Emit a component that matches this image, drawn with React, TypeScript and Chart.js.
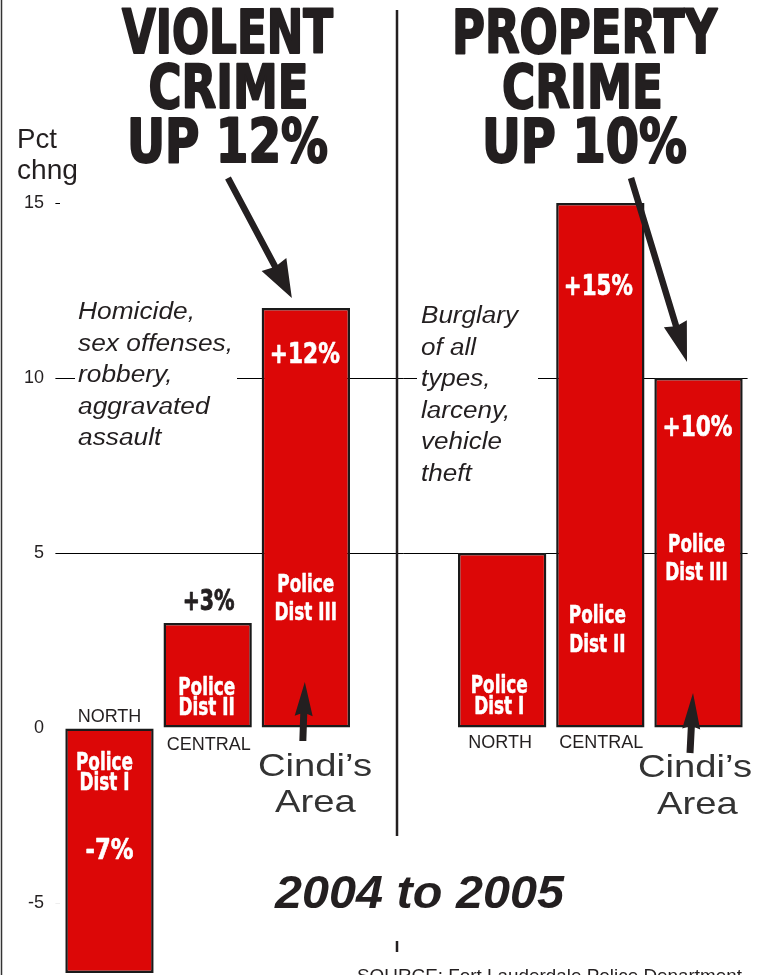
import React, { useEffect, useRef } from "react";
import { Chart, registerables } from "chart.js";

Chart.register(...registerables);

// ---------- data ----------
const categories = ["North (violent)", "Central (violent)", "Dist III (violent)", "", "North (property)", "Central (property)", "Dist III (property)"];
const pctChange: (number | null)[] = [-7, 3, 12, null, 5, 15, 10];
const valueLabels = ["-7%", "+3%", "+12%", "", "", "+15%", "+10%"];
const districtLine1 = ["Police", "Police", "Police", "", "Police", "Police", "Police"];
const districtLine2 = ["Dist I", "Dist II", "Dist III", "", "Dist I", "Dist II", "Dist III"];
const areaLabels = ["NORTH", "CENTRAL", "", "", "NORTH", "CENTRAL", ""];
const yTickValues = [-5, 0, 5, 10, 15];
const violentHeadline = ["VIOLENT", "CRIME", "UP 12%"];
const propertyHeadline = ["PROPERTY", "CRIME", "UP 10%"];
const violentNote = ["Homicide,", "sex offenses,", "robbery,", "aggravated", "assault"];
const propertyNote = ["Burglary", "of all", "types,", "larceny,", "vehicle", "theft"];
const yAxisTitle = ["Pct", "chng"];
const cindiLabel = ["Cindi\u2019s", "Area"];
const periodLabel = "2004 to 2005";
const sourceLabel = "SOURCE: Fort Lauderdale Police Department";

const Y_MIN = -7.057;
const Y_MAX = 20.8;

// ---------- styles / layout ----------
const RED = "#dc0707";
const INK = "#231f20";
const SANS = "'Liberation Sans', Arial, Helvetica, sans-serif";
const NARROW = "'Liberation Sans Narrow', 'DejaVu Sans Condensed', 'Liberation Sans', sans-serif";

// value label: [centerX offset, baseline y, width, color]
const valueLabelLayout: Record<number, [number, number, number, string]> = {
  0: [0, 859, 48, "#fff"],
  1: [1, 610, 52, INK],
  2: [-1, 363, 70, "#fff"],
  5: [-2, 295, 69, "#fff"],
  6: [-1, 436, 70, "#fff"],
};
// district label: [centerX offset, baseline line1, baseline line2]
const districtLayout: Record<number, [number, number, number]> = {
  0: [-5, 770, 790],
  1: [-1, 695, 715],
  2: [0, 592, 620],
  4: [-3, 693, 714],
  5: [-3, 623, 652],
  6: [-2, 552, 580],
};
// area label: [centerX offset, baseline]
const areaLayout: Record<number, [number, number]> = {
  0: [0, 722],
  1: [1, 750],
  4: [-2, 748],
  5: [1, 748],
};

function drawScaled(
  ctx: CanvasRenderingContext2D,
  text: string,
  x: number,
  y: number,
  font: string,
  sx: number,
  color: string,
  align: CanvasTextAlign = "center",
  stroke = 0
) {
  ctx.save();
  ctx.font = font;
  ctx.translate(x, y);
  ctx.scale(sx, 1);
  ctx.textAlign = align;
  ctx.textBaseline = "alphabetic";
  ctx.fillStyle = color;
  ctx.fillText(text, 0, 0);
  if (stroke > 0) {
    ctx.strokeStyle = color;
    ctx.lineWidth = stroke;
    ctx.lineJoin = "round";
    ctx.strokeText(text, 0, 0);
  }
  ctx.restore();
}

function scaleFor(ctx: CanvasRenderingContext2D, text: string, font: string, width: number) {
  ctx.save();
  ctx.font = font;
  const w = ctx.measureText(text).width;
  ctx.restore();
  return w > 0 ? width / w : 1;
}

function drawFit(
  ctx: CanvasRenderingContext2D,
  text: string,
  x: number,
  y: number,
  font: string,
  width: number,
  color: string,
  align: CanvasTextAlign = "center",
  stroke = 0
) {
  drawScaled(ctx, text, x, y, font, scaleFor(ctx, text, font, width), color, align, stroke);
}

function arrow(
  ctx: CanvasRenderingContext2D,
  x1: number,
  y1: number,
  x2: number,
  y2: number,
  shaftW: number,
  headLen: number,
  headW: number
) {
  const ang = Math.atan2(y2 - y1, x2 - x1);
  const len = Math.hypot(x2 - x1, y2 - y1);
  ctx.save();
  ctx.translate(x1, y1);
  ctx.rotate(ang);
  ctx.fillStyle = INK;
  ctx.beginPath();
  ctx.moveTo(0, -shaftW / 2);
  ctx.lineTo(len - headLen + 2, -shaftW / 2);
  ctx.lineTo(len - headLen, -headW / 2);
  ctx.lineTo(len, 0);
  ctx.lineTo(len - headLen, headW / 2);
  ctx.lineTo(len - headLen + 2, shaftW / 2);
  ctx.lineTo(0, shaftW / 2);
  ctx.closePath();
  ctx.fill();
  ctx.restore();
}

const overlayPlugin = {
  id: "overlay",
  afterDatasetsDraw(chart: any) {
    const ctx: CanvasRenderingContext2D = chart.ctx;
    const xs = chart.scales.x;
    const ys = chart.scales.y;
    const xp = (i: number) => xs.getPixelForValue(i);
    const yp = (v: number) => ys.getPixelForValue(v);

    // left frame line
    ctx.save();
    ctx.strokeStyle = "#333";
    ctx.lineWidth = 1.5;
    ctx.beginPath();
    ctx.moveTo(1.5, 0);
    ctx.lineTo(1.5, chart.height);
    ctx.stroke();
    ctx.restore();

    // divider between the two panels
    const divX = (xp(2) + xp(4)) / 2 - 7;
    ctx.save();
    ctx.strokeStyle = INK;
    ctx.lineWidth = 2.5;
    ctx.beginPath();
    ctx.moveTo(divX, 10);
    ctx.lineTo(divX, 836);
    ctx.moveTo(divX, 941);
    ctx.lineTo(divX, 952);
    ctx.stroke();
    ctx.restore();

    // Notes with white boxes
    ctx.save();
    ctx.fillStyle = "#fff";
    ctx.fillRect(75, 296, 162, 158);
    ctx.fillRect(417, 300, 121, 190);
    ctx.restore();
    const noteFont = `italic 23px ${SANS}`;
    const sL = scaleFor(ctx, violentNote[1], noteFont, 155);
    violentNote.forEach((t, k) => drawScaled(ctx, t, 78, 319 + k * 31.5, noteFont, sL, INK, "left"));
    const sR = scaleFor(ctx, propertyNote[0], noteFont, 97);
    propertyNote.forEach((t, k) => drawScaled(ctx, t, 421, 323 + k * 31.5, noteFont, sR, INK, "left"));

    // y-axis title
    const titleFont = `28px ${SANS}`;
    drawFit(ctx, yAxisTitle[0], 17, 148, titleFont, 40, INK, "left");
    drawFit(ctx, yAxisTitle[1], 17, 179, titleFont, 61, INK, "left");

    // headlines
    const hFont = `bold 61px ${NARROW}`;
    const vW = [211, 160, 201];
    const vC = [227.5, 228.5, 227.5];
    const pW = [265, 161, 205];
    const pC = [584.5, 582.5, 584.5];
    const hBase = [53, 108, 162];
    violentHeadline.forEach((t, k) => drawFit(ctx, t, vC[k], hBase[k], hFont, vW[k], INK, "center", 2));
    propertyHeadline.forEach((t, k) => drawFit(ctx, t, pC[k], hBase[k], hFont, pW[k], INK, "center", 2));

    // value labels
    const vFont = `bold 28px ${NARROW}`;
    Object.keys(valueLabelLayout).forEach((key) => {
      const i = Number(key);
      const [dx, by, w, col] = valueLabelLayout[i];
      drawFit(ctx, valueLabels[i], xp(i) + dx, by, vFont, w, col, "center", col === "#fff" ? 0.6 : 0.8);
    });

    // district labels
    const dFont = `bold 25px ${NARROW}`;
    const dS = scaleFor(ctx, "Police", dFont, 57);
    Object.keys(districtLayout).forEach((key) => {
      const i = Number(key);
      const [dx, b1, b2] = districtLayout[i];
      drawScaled(ctx, districtLine1[i], xp(i) + dx, b1, dFont, dS, "#fff", "center", 0.5);
      drawScaled(ctx, districtLine2[i], xp(i) + dx, b2, dFont, dS, "#fff", "center", 0.5);
    });

    // area labels
    const aFont = `18px ${SANS}`;
    Object.keys(areaLayout).forEach((key) => {
      const i = Number(key);
      const [dx, by] = areaLayout[i];
      ctx.save();
      ctx.font = aFont;
      ctx.fillStyle = INK;
      ctx.textAlign = "center";
      ctx.fillText(areaLabels[i], xp(i) + dx, by);
      ctx.restore();
    });

    // Cindi's area labels
    const cFont = `32px ${SANS}`;
    const cS = scaleFor(ctx, cindiLabel[0], cFont, 114);
    drawScaled(ctx, cindiLabel[0], 258, 776, cFont, cS, "#333", "left");
    drawScaled(ctx, cindiLabel[1], 275, 812, cFont, cS, "#333", "left");
    drawScaled(ctx, cindiLabel[0], 638, 777, cFont, cS, "#333", "left");
    drawScaled(ctx, cindiLabel[1], 657, 814, cFont, cS, "#333", "left");

    // arrows
    arrow(ctx, 228, 178, xp(2) - 14, yp(12) - 10, 6.5, 38, 28);
    arrow(ctx, 631, 178, xp(6) - 11.5, yp(10) - 16, 6.5, 40, 24);
    arrow(ctx, xp(2) - 3, 741, xp(2) - 1, yp(0) - 46, 7, 34, 18);
    arrow(ctx, xp(6) - 8.5, 753, xp(6) - 5.5, yp(0) - 35, 7, 36, 18);

    // period label
    drawFit(ctx, periodLabel, 419.5, 908, `italic bold 46px ${SANS}`, 289, INK, "center");

    // source
    drawFit(ctx, sourceLabel, 357, 982, `19px ${SANS}`, 385, INK, "left");
  },
};

export default function App() {
  const canvasRef = useRef<HTMLCanvasElement | null>(null);

  useEffect(() => {
    document.body.style.margin = "0";
    const canvas = canvasRef.current;
    if (!canvas) return;
    const chart = new Chart(canvas, {
      type: "bar",
      data: {
        labels: categories,
        datasets: [
          {
            label: "Pct change 2004 to 2005",
            data: pctChange,
            backgroundColor: RED,
            borderColor: "#1a1a1a",
            borderWidth: 2.5,
            borderSkipped: false,
            categoryPercentage: 1,
            barPercentage: 0.9,
          },
        ],
      },
      options: {
        responsive: false,
        animation: false,
        devicePixelRatio: 1,
        layout: { padding: { left: 0, right: 17.4, top: 0, bottom: 0 } },
        plugins: {
          legend: { display: false },
          tooltip: { enabled: false },
          title: { display: false },
        },
        scales: {
          x: {
            type: "category",
            display: false,
            offset: true,
          },
          y: {
            type: "linear",
            min: Y_MIN,
            max: Y_MAX,
            border: { display: false },
            afterBuildTicks: (scale: any) => {
              scale.ticks = yTickValues.map((v) => ({ value: v }));
            },
            afterFit: (scale: any) => {
              scale.width = 60.4;
              scale.paddingTop = 0;
              scale.paddingBottom = 0;
            },
            grid: {
              drawTicks: true,
              tickLength: 5,
              lineWidth: 1,
              color: (c: any) => {
                const v = c.tick && c.tick.value;
                if (v === 5 || v === 10) return "#000";
                return "rgba(0,0,0,0)";
              },
              tickColor: (c: any) => {
                const v = c.tick && c.tick.value;
                if (v === 0) return "rgba(0,0,0,0)";
                if (v === -5) return "#eeeeee";
                return "#000";
              },
            },
            ticks: {
              padding: 11.4,
              color: INK,
              font: { family: "'Liberation Sans', Arial, sans-serif", size: 18 },
              callback: (v: any) => String(v),
            },
          },
        },
      },
      plugins: [overlayPlugin],
    });
    return () => chart.destroy();
  }, []);

  return (
    <div style={{ position: "absolute", left: 0, top: 0, width: 765, height: 975, background: "#fff" }}>
      <canvas ref={canvasRef} width={765} height={975} style={{ display: "block" }} />
    </div>
  );
}
